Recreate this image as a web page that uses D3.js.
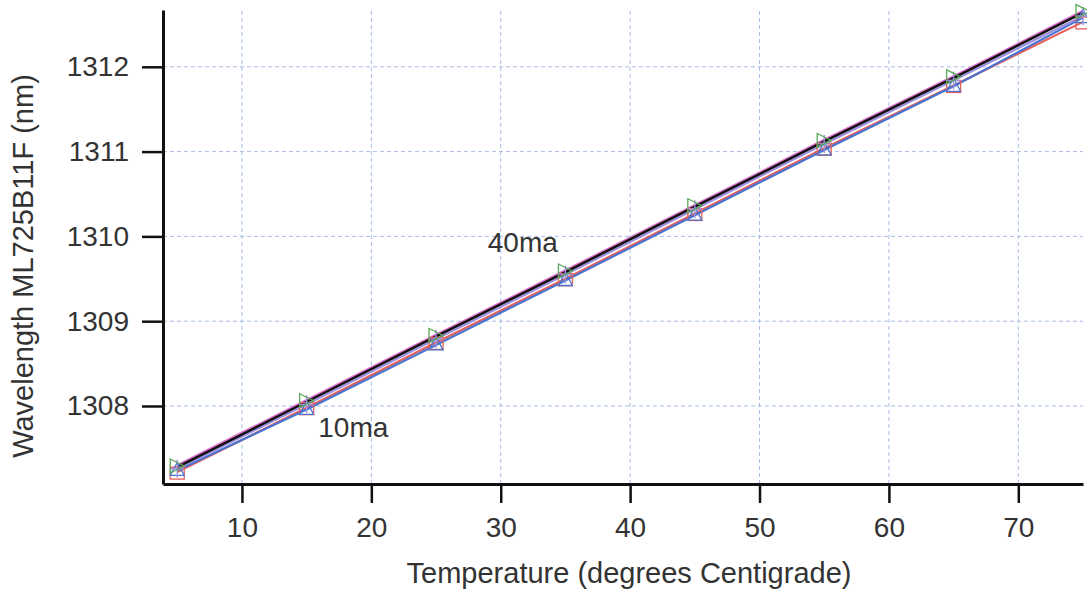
<!DOCTYPE html>
<html>
<head>
<style>
  body { margin: 0; background: #fff; }
  svg text { font-family: "Liberation Sans", Arial, sans-serif; fill: #333; }
</style>
</head>
<body>
<div id="graph_div"></div>
<script src="https://d3js.org/d3.v7.min.js"></script>
<script>
// temperature points (degrees C)
var temps = [5, 15, 25, 35, 45, 55, 65, 75];
// wavelength per drive current (nm)
var blueVals   = [1307.24, 1307.96, 1308.72, 1309.48, 1310.25, 1311.02, 1311.77, 1312.58];
var redVals    = [1307.22, 1307.98, 1308.75, 1309.50, 1310.27, 1311.04, 1311.78, 1312.53];
var purpleVals = [1307.26, 1308.02, 1308.79, 1309.55, 1310.32, 1311.09, 1311.84, 1312.60];
var blackVals  = [1307.28, 1308.05, 1308.82, 1309.58, 1310.35, 1311.12, 1311.87, 1312.64];
var pinkVals   = [1307.30, 1308.07, 1308.84, 1309.60, 1310.37, 1311.14, 1311.89, 1312.66];
var xTicks = [10, 20, 30, 40, 50, 60, 70];
var yTicks = [1308, 1309, 1310, 1311, 1312];

var W = 1087, H = 590;
var margin = {left: 163, right: 4, top: 10, bottom: 106};
var fs = "28px", titleFs = "29px";

var svg = d3.select("#graph_div").append("svg")
    .attr("width", W).attr("height", H);

var x = d3.scaleLinear().domain([3.9, 75]).range([margin.left, W - margin.right]);
var y = d3.scaleLinear().domain([1307.08, 1312.67]).range([H - margin.bottom, margin.top]);

// grid
var grid = svg.append("g").attr("stroke", "#a9bde6").attr("stroke-width", 1).attr("stroke-dasharray", "4,3");
grid.selectAll(".gx").data(xTicks).enter().append("line")
  .attr("x1", function(d) { return x(d); }).attr("x2", function(d) { return x(d); })
  .attr("y1", y.range()[0]).attr("y2", y.range()[1]);
grid.selectAll(".gy").data(yTicks).enter().append("line")
  .attr("y1", function(d) { return y(d); }).attr("y2", function(d) { return y(d); })
  .attr("x1", x.range()[0]).attr("x2", x.range()[1]);

// series
var series = [
  {vals: redVals, color: "#e8605a", marker: "square"},
  {vals: blueVals, color: "#4a74d0", marker: "triangle"},
  {vals: purpleVals, color: "#9c8ee0", marker: "plus"},
  {vals: pinkVals, color: "#e070d0", marker: "none"},
  {vals: blackVals, color: "#111111", marker: "bowtie"}
];
var greenColor = "#5aa85a";

var line = d3.line()
  .x(function(d, i) { return x(temps[i]); })
  .y(function(d) { return y(d); });

var plot = svg.append("g");
series.forEach(function(s) {
  plot.append("path").datum(s.vals)
    .attr("fill", "none").attr("stroke", s.color)
    .attr("stroke-width", s.color === "#111111" ? 2.5 : 2.2)
    .attr("d", line);
});

var mk = svg.append("g").attr("fill", "none").attr("stroke-width", 1.3);
series.forEach(function(s) {
  s.vals.forEach(function(v, i) {
    var cx = x(temps[i]), cy = y(v);
    if (s.marker === "square") {
      mk.append("rect").attr("x", cx - 7).attr("y", cy - 5).attr("width", 14).attr("height", 12)
        .attr("stroke", s.color);
    } else if (s.marker === "triangle") {
      mk.append("path").attr("d", "M" + (cx - 7) + "," + (cy + 5) + "L" + (cx + 7) + "," + (cy + 5) + "L" + cx + "," + (cy - 8) + "Z")
        .attr("stroke", s.color);
    } else if (s.marker === "plus") {
      mk.append("path").attr("d", "M" + cx + "," + (cy - 9) + "V" + (cy + 9) + "M" + (cx - 7) + "," + cy + "H" + (cx + 7))
        .attr("stroke", s.color);
    } else if (s.marker === "bowtie") {
      mk.append("path").attr("d", "M" + (cx - 7) + "," + (cy - 8) + "L" + (cx - 7) + "," + (cy + 6) + "L" + (cx + 7) + "," + (cy - 1) + "Z")
        .attr("stroke", greenColor);
    }
  });
});

// axes
var xAxis = svg.append("g").attr("transform", "translate(0," + y.range()[0] + ")")
  .call(d3.axisBottom(x).tickValues(xTicks).tickSize(19).tickPadding(14).tickSizeOuter(0));
var yAxis = svg.append("g").attr("transform", "translate(" + x.range()[0] + ",0)")
  .call(d3.axisLeft(y).tickValues(yTicks).tickSize(21).tickPadding(13).tickFormat(d3.format("d")).tickSizeOuter(0));
[xAxis, yAxis].forEach(function(a) {
  a.attr("font-size", null).attr("font-family", null);
  a.select(".domain").attr("stroke", "#111").attr("stroke-width", 3);
  a.selectAll(".tick line").attr("stroke", "#111").attr("stroke-width", 2.5);
  a.selectAll(".tick text").style("font-size", fs).attr("fill", "#333");
});

// titles
svg.append("text").attr("text-anchor", "middle")
  .attr("x", 629).attr("y", 583).style("font-size", titleFs)
  .text("Temperature (degrees Centigrade)");
svg.append("text").attr("text-anchor", "middle")
  .attr("transform", "translate(33,266) rotate(-90)")
  .style("font-size", titleFs)
  .text("Wavelength ML725B11F (nm)");

// series labels
svg.append("text").attr("x", x(15.9)).attr("y", y(1307.63)).style("font-size", fs).text("10ma");
svg.append("text").attr("x", x(29)).attr("y", y(1309.82)).style("font-size", fs).text("40ma");
</script>
</body>
</html>
